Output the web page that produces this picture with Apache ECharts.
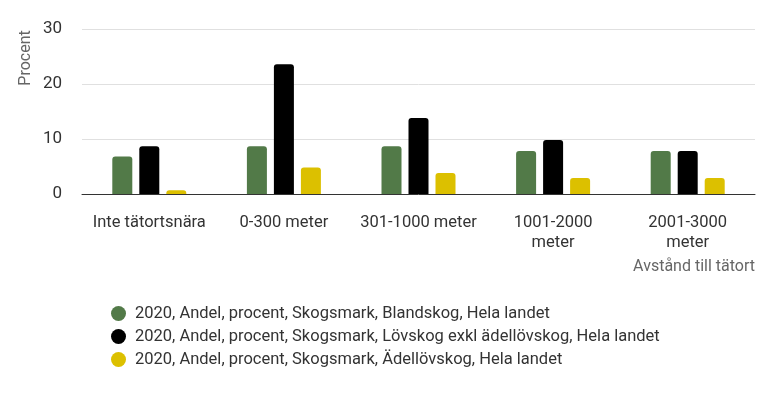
<!DOCTYPE html>
<html>
<head>
<meta charset="utf-8">
<script src="https://cdn.jsdelivr.net/npm/echarts@6/dist/echarts.min.js"></script>
<style>
  html, body { margin: 0; padding: 0; background: #fff; }
  #chart { width: 768px; height: 394px; }
</style>
</head>
<body>
<div id="chart"></div>
<script>
// kategorier (avstånd till tätort)
const categories = ['Inte tätortsnära', '0-300 meter', '301-1000 meter', '1001-2000\nmeter', '2001-3000\nmeter']
const seriesNames = [
  '2020, Andel, procent, Skogsmark, Blandskog, Hela landet',
  '2020, Andel, procent, Skogsmark, Lövskog exkl ädellövskog, Hela landet',
  '2020, Andel, procent, Skogsmark, Ädellövskog, Hela landet',
]
const blandskog = [6.8, 8.7, 8.7, 7.8, 7.8]
const lovskog = [8.7, 23.6, 13.8, 9.8, 7.8]
const adellovskog = [0.7, 4.8, 3.8, 2.9, 2.9]
const yTicks = [0, 10, 20, 30]

const colors = ['#527a48', '#000000', '#dcc000']
const font = 'Roboto'

const myChart = echarts.init(document.getElementById('chart'))

const mkSeries = (name, data, i) => ({
  name: name,
  type: 'bar',
  data: data,
  barWidth: 20,
  barGap: '35%',
  itemStyle: {
    color: colors[i],
    borderRadius: [3, 3, 0, 0],
  },
})

const option = {
  animation: false,
  textStyle: { fontFamily: font },
  grid: {
    left: 82,
    right: 13,
    top: 29,
    bottom: 200,
  },
  xAxis: {
    type: 'category',
    data: categories,
    axisTick: { show: false },
    axisLine: { lineStyle: { color: '#333', width: 1 } },
    axisLabel: {
      color: '#333',
      fontSize: 16.5,
      margin: 19,
      lineHeight: 20,
      interval: 0,
    },
  },
  yAxis: {
    type: 'value',
    min: yTicks[0],
    max: yTicks[yTicks.length - 1],
    interval: 10,
    axisLabel: { color: '#333', fontSize: 17, margin: 20 },
    splitLine: { lineStyle: { color: '#e0e0e0' } },
    axisLine: { show: false },
    axisTick: { show: false },
  },
  legend: {
    orient: 'vertical',
    left: 106,
    top: 300,
    icon: 'circle',
    itemWidth: 15,
    itemHeight: 15,
    itemGap: 6,
    textStyle: { color: '#333', fontSize: 16.5, fontFamily: font, padding: [0, 0, 0, 4] },
    data: seriesNames,
  },
  graphic: [
    {
      type: 'text',
      x: 26,
      y: 58,
      rotation: Math.PI / 2,
      style: {
        text: 'Procent',
        fill: '#666',
        font: '16px Roboto',
        textAlign: 'center',
        textVerticalAlign: 'middle',
      },
    },
    {
      type: 'text',
      right: 13,
      top: 259,
      style: {
        text: 'Avstånd till tätort',
        fill: '#666',
        font: '16px Roboto',
      },
    },
  ],
  series: [
    mkSeries(seriesNames[0], blandskog, 0),
    mkSeries(seriesNames[1], lovskog, 1),
    mkSeries(seriesNames[2], adellovskog, 2),
  ],
}

myChart.setOption(option)
</script>
</body>
</html>
